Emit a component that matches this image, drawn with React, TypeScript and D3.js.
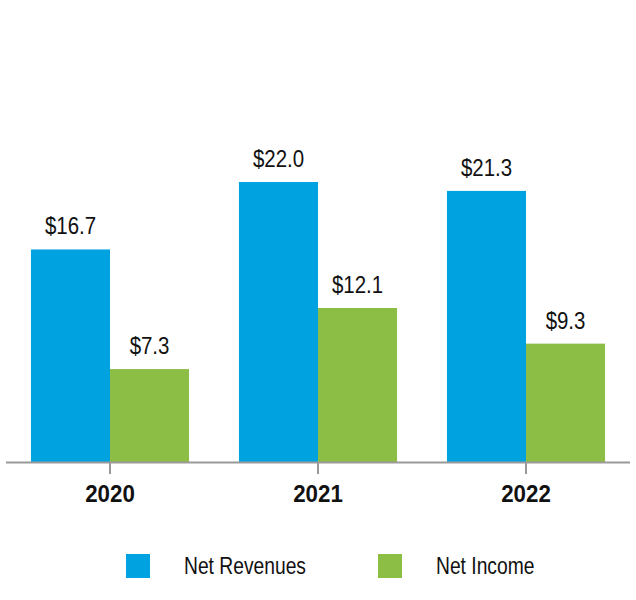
import React from "react";
import * as d3 from "d3";

const years = ["2020", "2021", "2022"];
const seriesNames = ["Net Revenues", "Net Income"];
const netRevenues = [16.7, 22.0, 21.3];
const netIncome = [7.3, 12.1, 9.3];
const colors = ["#00a3df", "#8cbd45"];

const W = 636;
const H = 600;
const FONT = "'Liberation Sans', Arial, sans-serif";

function CText(props: { x: number; y: number; k: number; size: number; anchor?: string; bold?: boolean; children: React.ReactNode }) {
  const { x, y, k, size, anchor = "middle", bold = false, children } = props;
  return (
    <g transform={`translate(${x},${y}) scale(${k},1)`}>
      <text x={0} y={0} textAnchor={anchor} fontFamily={FONT} fontSize={size} fontWeight={bold ? "bold" : "normal"} fill="#111">
        {children}
      </text>
    </g>
  );
}

export default function App() {
  const x0 = d3.scaleBand<string>().domain(years).range([6, 630]).paddingInner(0.24).paddingOuter(0.12);
  const x1 = d3.scaleBand<string>().domain(seriesNames).range([0, x0.bandwidth()]).padding(0);
  const y = d3.scaleLinear().domain([0, 22]).range([462, 182]);
  const values = [netRevenues, netIncome];
  const legendX = [126, 378];

  return (
    <svg width={W} height={H} style={{ position: "absolute", left: 0, top: 0, background: "#fff" }}>
      {years.map((yr, i) => (
        <g key={yr} transform={`translate(${x0(yr)},0)`}>
          {seriesNames.map((s, j) => {
            const v = values[j][i];
            const bx = x1(s)!;
            return (
              <g key={s}>
                <rect x={bx} y={y(v)} width={x1.bandwidth()} height={y(0) - y(v)} fill={colors[j]} />
                <CText x={bx + x1.bandwidth() / 2} y={y(v) - 15} k={0.87} size={23.5}>
                  ${v.toFixed(1)}
                </CText>
              </g>
            );
          })}
        </g>
      ))}
      <line x1={6} x2={630} y1={462.5} y2={462.5} stroke="#999" strokeWidth={2} />
      {years.map((yr) => {
        const cx = x0(yr)! + x0.bandwidth() / 2;
        return (
          <g key={yr}>
            <line x1={cx} x2={cx} y1={462} y2={474} stroke="#999" strokeWidth={2} />
            <CText x={cx} y={502} k={0.93} size={24} bold>
              {yr}
            </CText>
          </g>
        );
      })}
      {seriesNames.map((s, j) => (
        <g key={s}>
          <rect x={legendX[j]} y={554} width={24} height={24} fill={colors[j]} />
          <CText x={legendX[j] + 58} y={574} k={0.82} size={23.5} anchor="start">
            {s}
          </CText>
        </g>
      ))}
    </svg>
  );
}
